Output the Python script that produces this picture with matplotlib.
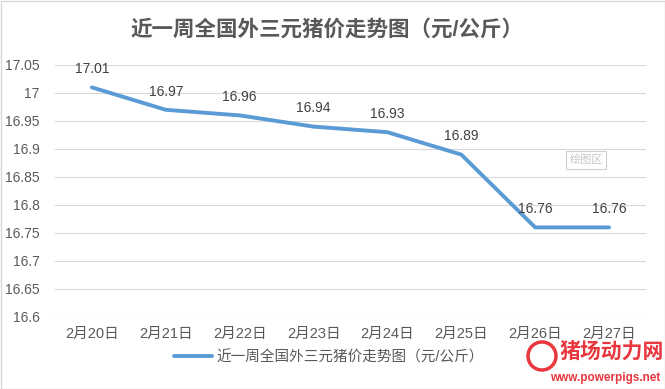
import matplotlib.pyplot as plt
from matplotlib.patches import Rectangle, Ellipse

plt.rcParams['font.family'] = ['Liberation Sans', 'Noto Sans CJK SC', 'DejaVu Sans']

dates = ['2月20日', '2月21日', '2月22日', '2月23日', '2月24日', '2月25日', '2月26日', '2月27日']
prices = [17.01, 16.97, 16.96, 16.94, 16.93, 16.89, 16.76, 16.76]
yticks = [16.6, 16.65, 16.7, 16.75, 16.8, 16.85, 16.9, 16.95, 17, 17.05]
ytick_labels = ['16.6', '16.65', '16.7', '16.75', '16.8', '16.85', '16.9', '16.95', '17', '17.05']
title = '近一周全国外三元猪价走势图（元/公斤）'

W, H = 665, 389
fig = plt.figure(figsize=(W / 100, H / 100), dpi=100)
# axes position in pixels: left 55, right 646, top 65, bottom 317
ax = fig.add_axes([55 / W, 1 - 317 / H, (646 - 55) / W, (317 - 65) / H])

x = list(range(len(dates)))
line, = ax.plot(x, prices, color='#5B9BD5', linewidth=2.8, solid_capstyle='round',
                label=title, zorder=3)
for xi, p in zip(x, prices):
    ax.annotate(f'{p:.2f}', (xi, p), xytext=(0, 8), textcoords='offset points',
                ha='center', va='bottom', fontsize=10, color='#404040')

ax.set_xlim(-0.5, len(dates) - 0.5)
ax.set_ylim(16.6, 17.05)
ax.set_yticks(yticks)
ax.set_yticklabels(ytick_labels, fontsize=10, color='#595959')
ax.set_xticks(x)
ax.set_xticklabels(dates, fontsize=10.5, color='#595959')
ax.tick_params(length=0, pad=7)
ax.tick_params(axis='y', pad=11)
ax.grid(axis='y', color='#D9D9D9', linewidth=0.8)
for s in ax.spines.values():
    s.set_visible(False)

fig.text(327 / W, 1 - 30 / H, title, ha='center', va='center', fontsize=15.5,
         fontweight='bold', color='#595959')

leg = fig.legend(handles=[line], loc='center', bbox_to_anchor=(329 / W, 1 - 357 / H),
                 frameon=False, fontsize=10.5, handlelength=2.6, handletextpad=0.3)
for t in leg.get_texts():
    t.set_color('#595959')

# "绘图区" tooltip
fig.text(586 / W, 1 - 160 / H, '绘图区', ha='center', va='center', fontsize=8, color='#C8C8C8',
         bbox=dict(boxstyle='square,pad=0.3', fc='white', ec='#D0D0D0', lw=0.8))

# watermark
fig.text(612 / W, 1 - 352 / H, '猪场动力网', ha='center', va='center', fontsize=15,
         fontweight='bold', color='#E8373E')
fig.text(605 / W, 1 - 378 / H, 'www.powerpigs.net', ha='center', va='center', fontsize=8.5,
         fontweight='bold', color='#E8373E')
logo = Ellipse((542 / W, 1 - 356 / H), 28 / W, 28 / H, transform=fig.transFigure,
               fill=False, ec='#E8373E', lw=2.5)
fig.add_artist(logo)

fig.add_artist(Rectangle((0.5 / W, 0.5 / H), 1 - 1 / W, 1 - 1 / H, transform=fig.transFigure,
                         fill=False, ec='#D9D9D9', lw=1))

fig.savefig('out.png', dpi=100)
